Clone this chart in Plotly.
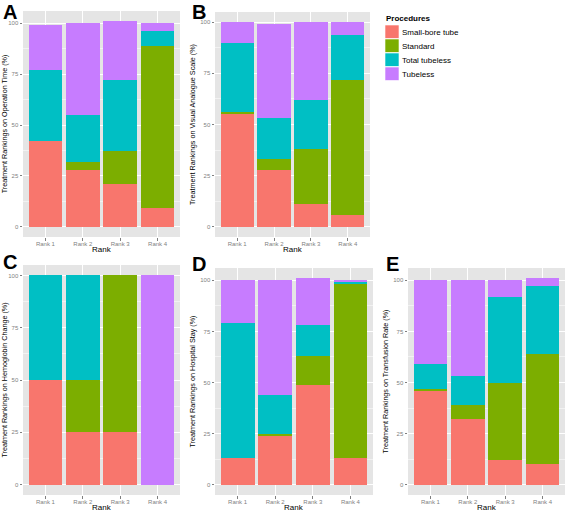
import plotly.graph_objects as go

categories = ["Rank 1", "Rank 2", "Rank 3", "Rank 4"]
procedures = ["Small-bore tube", "Standard", "Total tubeless", "Tubeless"]
colors = ["#F8766D", "#7CAE00", "#00BFC4", "#C77CFF"]

# Panel A: Operation Time
A_small = [42, 28, 21, 9]
A_standard = [0, 4, 16, 80]
A_total = [35, 23, 35, 7]
A_tubeless = [22, 45, 29, 4]
# Panel B: Visual Analogue Scale
B_small = [55, 28, 11, 6]
B_standard = [1, 5, 27, 66]
B_total = [34, 20, 24, 22]
B_tubeless = [10, 46, 38, 6]
# Panel C: Hemoglobin Change
C_small = [50, 25, 25, 0]
C_standard = [0, 25, 75, 0]
C_total = [50, 50, 0, 0]
C_tubeless = [0, 0, 0, 100]
# Panel D: Hospital Stay
D_small = [13, 24, 49, 13]
D_standard = [0, 1, 14, 85]
D_total = [66, 19, 15, 1]
D_tubeless = [21, 56, 23, 1]
# Panel E: Transfusion Rate
E_small = [46, 32, 12, 10]
E_standard = [1, 7, 38, 54]
E_total = [12, 14, 42, 33]
E_tubeless = [41, 47, 8, 4]

panel_letters = ["A", "B", "C", "D", "E"]
y_titles = [
    "Treatment Rankings on Operation Time (%)",
    "Treatment Rankings on Visual Analogue Scale (%)",
    "Treatment Rankings on Hemoglobin Change (%)",
    "Treatment Rankings on Hospital Stay (%)",
    "Treatment Rankings on Transfusion Rate (%)",
]
y_ticks = [0, 25, 50, 75, 100]
legend_title = "Procedures"

panels = [
    [A_small, A_standard, A_total, A_tubeless],
    [B_small, B_standard, B_total, B_tubeless],
    [C_small, C_standard, C_total, C_tubeless],
    [D_small, D_standard, D_total, D_tubeless],
    [E_small, E_standard, E_total, E_tubeless],
]

W, H = 567, 512
# pixel boxes of panels: (x0, x1, ytop, ybottom)
boxes = [
    (23, 180, 11, 237),
    (215, 370, 12, 237),
    (23, 180, 265, 495),
    (215, 373, 268, 495),
    (408, 565, 268, 495),
]
letter_pos = [(10, 12), (199, 12), (10, 262), (199, 264), (392, 264)]

FONT = "Liberation Sans"
TICKFONT = dict(size=6, color="#7F7F7F", family=FONT)
fig = go.Figure()
layout = {}
annotations = []
for i, (vals, box) in enumerate(zip(panels, boxes)):
    n = "" if i == 0 else str(i + 1)
    for j, (series, name) in enumerate(zip(vals, procedures)):
        fig.add_trace(go.Bar(
            x=categories, y=series, name=name,
            marker=dict(color=colors[j], line=dict(width=0)),
            xaxis="x" + n, yaxis="y" + n,
            legendgroup=name, showlegend=False,
        ))
    totals = [sum(v[k] for v in vals) for k in range(4)]
    ymax = max(totals)
    x0, x1, yt, yb = box
    layout["xaxis" + n] = dict(
        domain=[x0 / W, x1 / W], anchor="y" + n,
        range=[-0.6, 3.6], showgrid=True, gridcolor="white", gridwidth=1,
        ticks="outside", ticklen=2.5, tickcolor="#7F7F7F", ticklabelstandoff=-2,
        tickfont=TICKFONT,
        zeroline=False, showline=False,
    )
    layout["yaxis" + n] = dict(
        domain=[1 - yb / H, 1 - yt / H], anchor="x" + n,
        range=[-0.05 * ymax, 1.05 * ymax],
        tickvals=y_ticks, showgrid=True, gridcolor="white", gridwidth=1,
        ticks="outside", ticklen=2.5, tickcolor="#7F7F7F",
        tickfont=TICKFONT,
        title=dict(text=y_titles[i], font=dict(size=7.2, color="black", family=FONT), standoff=3),
        minor=dict(tickvals=[12.5, 37.5, 62.5, 87.5], showgrid=True, gridcolor="#F2F2F2", gridwidth=0.6, ticks=""),
        zeroline=False, showline=False,
    )
    # x-axis title "Rank" below tick labels
    annotations.append(dict(
        text="Rank", x=(x0 + x1) / 2 / W, y=1 - (yb + 12.5) / H, xref="paper", yref="paper",
        showarrow=False, font=dict(size=8, color="black", family=FONT),
        xanchor="center", yanchor="middle",
    ))

for (lx, ly), letter in zip(letter_pos, panel_letters):
    annotations.append(dict(
        text="<b>%s</b>" % letter, x=lx / W, y=1 - ly / H, xref="paper", yref="paper",
        showarrow=False, font=dict(size=20, color="black", family=FONT),
        xanchor="center", yanchor="middle",
    ))

# legend (drawn as swatches + labels)
shapes = []
annotations.append(dict(
    text="<b>%s</b>" % legend_title, x=384 / W, y=1 - 18 / H, xref="paper", yref="paper",
    showarrow=False, font=dict(size=8, color="black", family=FONT),
    xanchor="left", yanchor="middle",
))
for j, name in enumerate(procedures):
    top = 25 + 14 * j
    shapes.append(dict(
        type="rect", xref="paper", yref="paper",
        x0=385 / W, x1=399 / W, y0=1 - (top + 13.5) / H, y1=1 - top / H,
        fillcolor=colors[j], line=dict(width=0.6, color="white"), layer="above",
    ))
    annotations.append(dict(
        text=name, x=400 / W, y=1 - (top + 7) / H, xref="paper", yref="paper",
        showarrow=False, font=dict(size=8, color="black", family=FONT),
        xanchor="left", yanchor="middle",
    ))

fig.update_layout(
    width=W, height=H, margin=dict(l=0, r=0, t=0, b=0),
    paper_bgcolor="white", plot_bgcolor="#E5E5E5",
    barmode="stack", bargap=0.1,
    font=dict(family=FONT),
    showlegend=False,
    annotations=annotations,
    shapes=shapes,
    **layout,
)
fig.write_html(
    "out.html",
    config={"displayModeBar": False},
    post_script="document.body.style.margin='0';document.body.style.overflow='hidden';",
)
